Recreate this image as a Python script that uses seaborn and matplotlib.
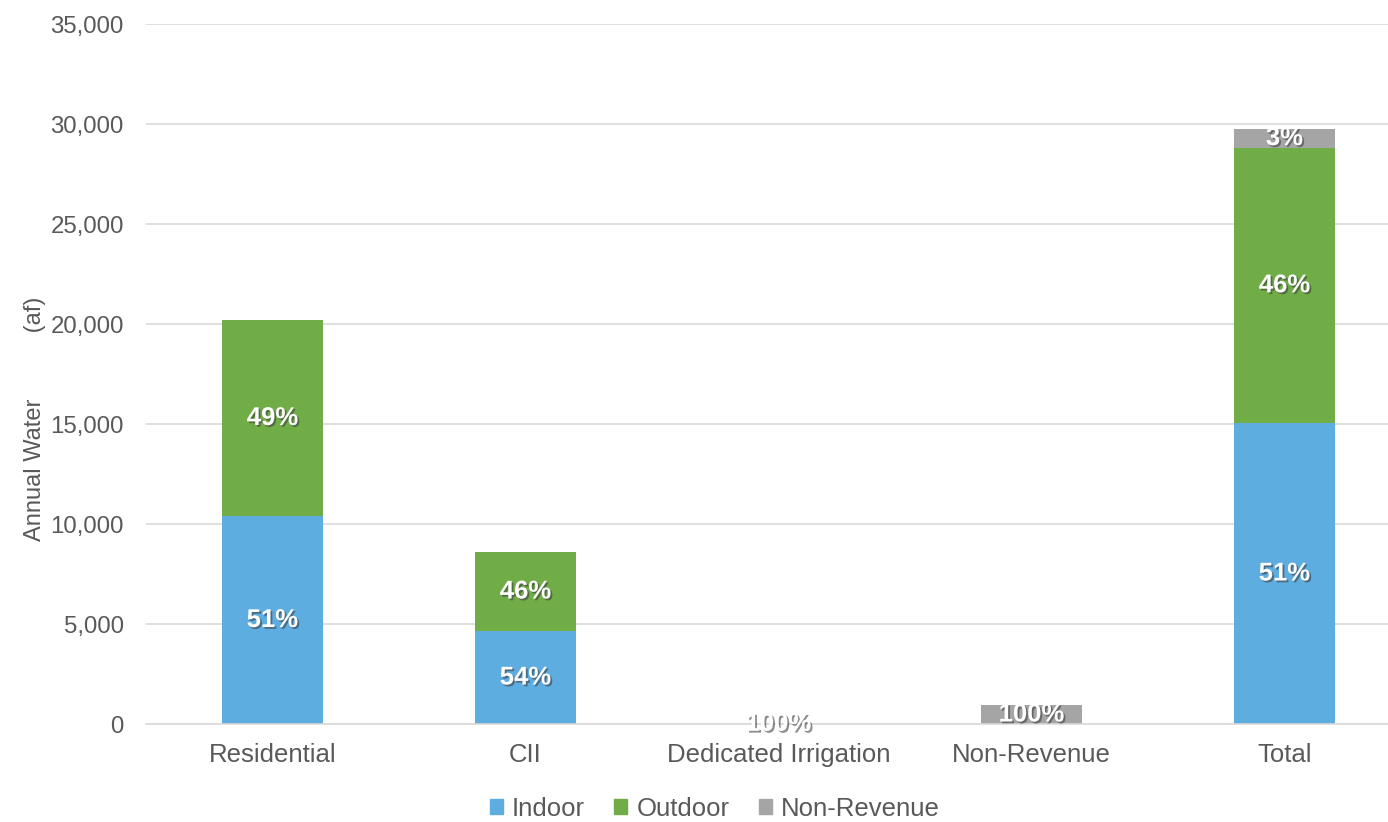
import pandas as pd
import matplotlib.pyplot as plt
import matplotlib.patheffects as pe
from matplotlib.ticker import FuncFormatter, FixedLocator
from matplotlib.patches import Patch
import seaborn as sns

# Data (acre-feet)
categories = ["Residential", "CII", "Dedicated Irrigation", "Non-Revenue"]
indoor = [10400, 4650, 0, 0]
outdoor = [9800, 3950, 20, 0]
non_revenue = [0, 0, 0, 950]

labels = categories + ["Total"]
indoor_all = indoor + [sum(indoor)]
outdoor_all = outdoor + [sum(outdoor)]
nonrev_all = non_revenue + [sum(non_revenue)]

colors = {"Indoor": "#5DADE0", "Outdoor": "#70AD47", "Non-Revenue": "#A5A5A5"}
text_gray = "#595959"

df = pd.DataFrame({"category": labels, "Indoor": indoor_all,
                   "Outdoor": outdoor_all, "Non-Revenue": nonrev_all})
df["cum_in"] = df["Indoor"]
df["cum_out"] = df["cum_in"] + df["Outdoor"]
df["cum_nr"] = df["cum_out"] + df["Non-Revenue"]
df["total"] = df["cum_nr"]

sns.set_theme(style="white")
plt.rcParams["font.family"] = ["Liberation Sans", "DejaVu Sans"]

fig = plt.figure(figsize=(13.88, 8.22), dpi=100)
ax = fig.add_axes([146 / 1388, 98 / 822, 1265 / 1388, 700 / 822])

# stacked bars by layering cumulative heights
sns.barplot(data=df, x="category", y="cum_nr", color=colors["Non-Revenue"],
            width=0.4, saturation=1, ax=ax, zorder=2)
sns.barplot(data=df, x="category", y="cum_out", color=colors["Outdoor"],
            width=0.4, saturation=1, ax=ax, zorder=2)
sns.barplot(data=df, x="category", y="cum_in", color=colors["Indoor"],
            width=0.4, saturation=1, ax=ax, zorder=2)
for p in ax.patches:
    p.set_linewidth(0)

# percentage labels
shadow = [pe.SimplePatchShadow(offset=(1.3, -1.3), shadow_rgbFace="#404040", alpha=0.6),
          pe.Normal()]
for i, row in df.iterrows():
    bottom = 0
    for seg in ["Indoor", "Outdoor", "Non-Revenue"]:
        v = row[seg]
        if v > 0:
            pct = round(100 * v / row["total"])
            ax.text(i, bottom + v / 2, f"{pct}%", ha="center", va="center",
                    color="white", fontsize=18.5, fontweight="bold",
                    path_effects=shadow, zorder=5)
        bottom += v

ax.set_ylim(0, 35000)
ax.set_xlim(-0.5, len(labels) - 0.5)
ax.set_yticks(range(0, 35001, 5000))
ax.yaxis.set_major_formatter(FuncFormatter(lambda v, p: f"{int(v):,}"))
ax.grid(axis="y", color="#D9D9D9", linewidth=1.2, zorder=0)
ax.set_axisbelow(True)

for s in ["top", "right", "left"]:
    ax.spines[s].set_visible(False)
ax.spines["bottom"].set_color("#D9D9D9")
ax.spines["bottom"].set_linewidth(1.2)

ax.tick_params(axis="y", length=0, pad=16, labelsize=17.3, labelcolor=text_gray)
ax.tick_params(axis="x", which="major", length=0, pad=14, labelsize=18.5,
               labelcolor=text_gray)
ax.xaxis.set_minor_locator(FixedLocator([k - 0.5 for k in range(len(labels) + 1)]))
ax.tick_params(axis="x", which="minor", length=5, width=1.2, color="#D9D9D9",
               direction="out")
ax.set_xlabel("")
ax.set_ylabel("")

fig.text(35 / 1388, 403 / 822, "Annual Water          (af)", rotation=90,
         ha="center", va="center", fontsize=17, color=text_gray)

handles = [Patch(color=colors[k], label=k) for k in ["Indoor", "Outdoor", "Non-Revenue"]]
fig.legend(handles=handles, loc="center", bbox_to_anchor=(0.515, 0.016), ncol=3,
           frameon=False, fontsize=18.5, handlelength=0.5, handleheight=0.5,
           handletextpad=0.35, columnspacing=1.15, labelcolor=text_gray)

fig.savefig("out.png", dpi=100)
